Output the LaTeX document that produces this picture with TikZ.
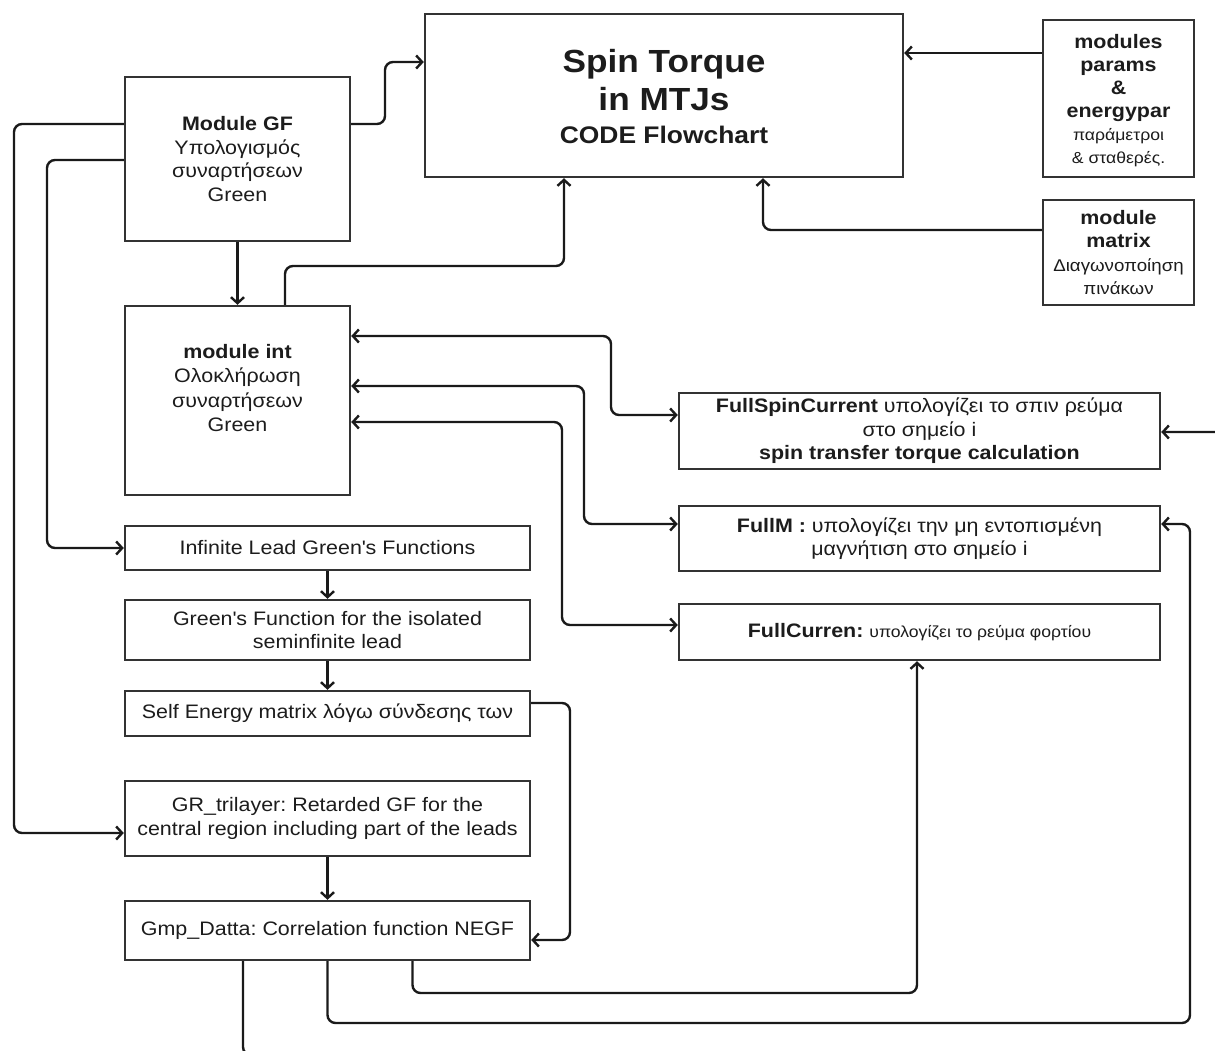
\documentclass[tikz,border=0pt]{standalone}
\usepackage{fontspec}
\setmainfont{Liberation Sans}[FakeStretch=1.1]
\usetikzlibrary{arrows.meta}
\newcommand\myfs[2]{\fontsize{#1}{#2}\selectfont}
\frenchspacing
\definecolor{boxc}{HTML}{333333}
\definecolor{linec}{HTML}{1A1A1A}
\definecolor{txt}{HTML}{1C1C1C}
\tikzset{
  box/.style={draw=boxc, line width=2.4pt, fill=white, inner sep=2pt, align=center, text=txt, font=\myfs{19.5}{23.5}},
  conn/.style={draw=linec, line width=2.4pt, rounded corners=8pt},
  arr/.style={conn, -{Straight Barb[length=6pt,width=13pt]}},
  arrs/.style={conn, {Straight Barb[length=6pt,width=13pt]}-{Straight Barb[length=6pt,width=13pt]}}
}
\begin{document}
\begin{tikzpicture}[x=1pt,y=-1pt]
\fill[white] (0,0) rectangle (1215,1050);
\useasboundingbox (0,0) rectangle (1215,1050);

% boxes
\node[box, minimum width=478pt, minimum height=163pt] (title) at (664,95.5) {};
\node[align=center, text=txt, inner sep=0pt, font=\myfs{32}{38}\bfseries] (titleT) at (664,97)
  {Spin Torque\\ in MTJs\\[-5pt] {\myfs{24}{30}\bfseries CODE Flowchart}};
\node[box, minimum width=151pt, minimum height=157pt] (params) at (1118.5,98.5) {};
\node[align=center, text=txt, inner sep=0pt, font=\myfs{19.5}{23}] (paramsT) at (1118.5,101)
  {\bfseries modules\\ \bfseries params\\ \bfseries \&\\ \bfseries energypar\\ \myfs{16}{23.5}παράμετροι\\ \myfs{16}{23}\& σταθερές.};
\node[box, minimum width=151pt, minimum height=105pt] (matrix) at (1118.5,252.5)
  {\bfseries module\\ \bfseries matrix\\ \myfs{17}{22}Διαγωνοποίηση\\ \myfs{17}{22}πινάκων};
\node[box, minimum width=225pt, minimum height=164pt] (GF) at (237.5,159)
  {\textbf{Module GF}\\ Υπολογισμός\\ συναρτήσεων\\ Green};
\node[box, minimum width=225pt, minimum height=189pt] (int) at (237.5,400.5) {};
\node[align=center, text=txt, font=\myfs{19.5}{24.2}, inner sep=0pt] (intT) at (237.5,388)
  {\textbf{module int}\\ Ολοκλήρωση\\ συναρτήσεων\\ Green};
\node[box, minimum width=481pt, minimum height=76pt] (FSC) at (919.5,431)
  {\textbf{FullSpinCurrent} υπολογίζει το σπιν ρεύμα\\ στο σημείο i\\ \textbf{spin transfer torque calculation}};
\node[box, minimum width=481pt, minimum height=65pt] (FullM) at (919.5,538.5)
  {\textbf{FullM :} υπολογίζει την μη εντοπισμένη\\ μαγνήτιση στο σημείο i};
\node[box, minimum width=481pt, minimum height=56pt] (FC) at (919.5,632)
  {\textbf{FullCurren:} {\myfs{16}{20}υπολογίζει το ρεύμα φορτίου}};
\node[box, minimum width=405pt, minimum height=44pt] (inf) at (327.5,548)
  {Infinite Lead Green\textquotesingle s Functions};
\node[box, minimum width=405pt, minimum height=60pt] (iso) at (327.5,630)
  {Green\textquotesingle s Function for the isolated\\ seminfinite lead};
\node[box, minimum width=405pt, minimum height=45pt] (self) at (327.5,713.5)
  {Self Energy matrix λόγω σύνδεσης των};
\node[box, minimum width=405pt, minimum height=75pt] (GR) at (327.5,818.5)
  {GR\_trilayer: Retarded GF for the\\ central region including part of the leads};
\node[box, minimum width=405pt, minimum height=59pt] (gmp) at (327.5,930.5)
  {Gmp\_Datta: Correlation function NEGF};

% connectors
\draw[arr] ([yshift=35pt]GF.east) -- (385,124) -- (385,62) -- ([yshift=33.5pt]title.west);
\draw[arr] (GF.south) -- (int.north);
\draw[arr] ([xshift=47.5pt]int.north) -- (285,266) -- (564,266) -- ([xshift=-100pt]title.south);
\draw[arr] ([yshift=22.5pt]matrix.west) -- (763,230) -- ([xshift=99pt]title.south);
\draw[arr] ([yshift=45.5pt]params.west) -- ([yshift=45.5pt]params.west -| title.east);
\draw[arr] ([yshift=35pt]GF.west) -- (14,124) -- (14,833) -- ([yshift=-14.5pt]GR.west);
\draw[arr] ([yshift=-1pt]GF.west) -- (47,160) -- (47,548) -- (inf.west);
\draw[arrs] ([yshift=64.5pt]int.east) -- (611,336) -- (611,415) -- ([yshift=16pt]FSC.west);
\draw[arrs] ([yshift=14.5pt]int.east) -- (584,386) -- (584,524) -- ([yshift=14.5pt]FullM.west);
\draw[arrs] ([yshift=-21.5pt]int.east) -- (562,422) -- (562,625) -- ([yshift=7pt]FC.west);
\draw[arr] (inf.south) -- (iso.north);
\draw[arr] (iso.south) -- (self.north);
\draw[arr] (GR.south) -- (gmp.north);
\draw[arr] ([yshift=10.5pt]self.east) -- (570,703) -- (570,940) -- ([yshift=-9.5pt]gmp.east);
\draw[arr] ([xshift=85pt]gmp.south) -- (412.5,993) -- (917,993) -- ([xshift=-2.5pt]FC.south);
\draw[arr] (gmp.south) -- (327.5,1023) -- (1190,1023) -- (1190,524) -- ([yshift=14.5pt]FullM.east);
\draw[arr] ([xshift=-84.5pt]gmp.south) -- (243,1055) -- (1228,1055) -- (1228,432) -- ([yshift=-1pt]FSC.east);
\end{tikzpicture}
\end{document}
